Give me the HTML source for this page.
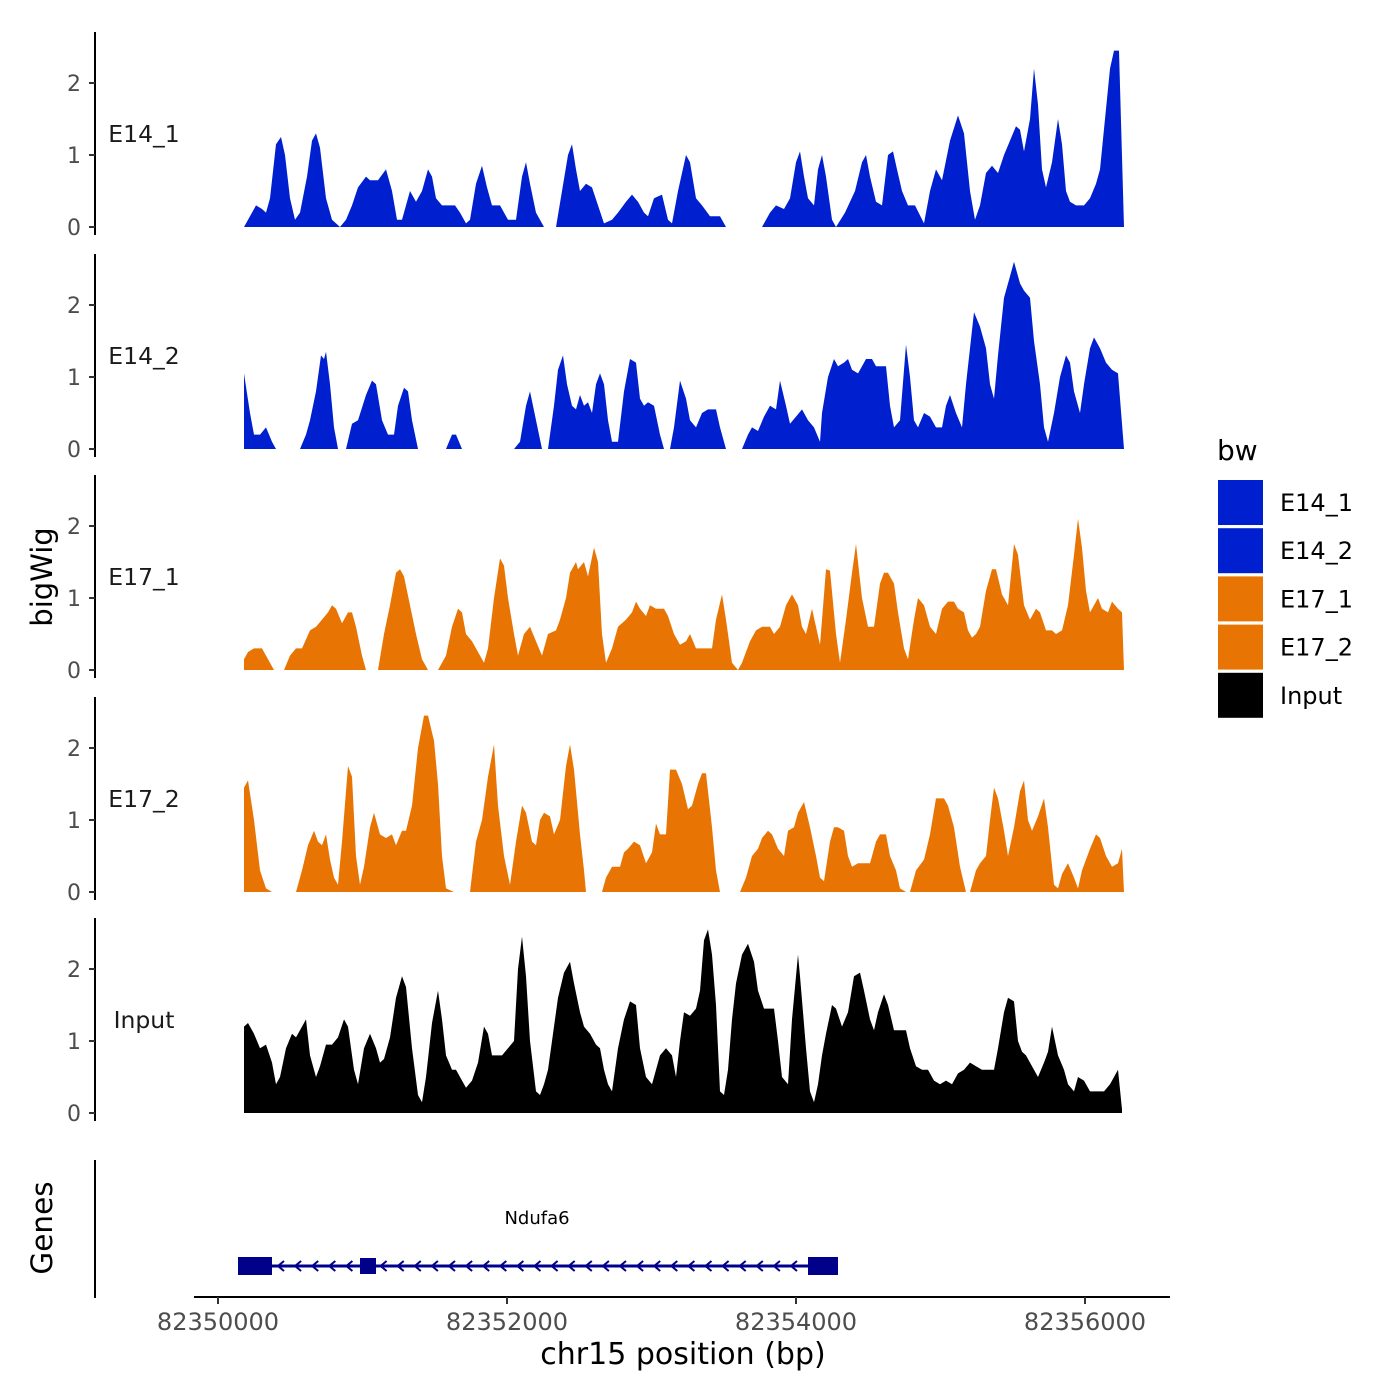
<!DOCTYPE html>
<html><head><meta charset="utf-8"><style>
body{margin:0;background:#fff}
svg text{font-family:"DejaVu Sans","Liberation Sans",sans-serif}
</style></head><body>
<svg id="s" width="1400" height="1400" xmlns="http://www.w3.org/2000/svg" style="display:block">
<rect width="1400" height="1400" fill="#fff"/>
</svg>
<script>
const NS="http://www.w3.org/2000/svg";const S=document.getElementById('s');
function el(t,a,txt){const e=document.createElementNS(NS,t);for(const k in a)e.setAttribute(k,a[k]);if(txt!==undefined)e.textContent=txt;S.appendChild(e);return e;}
const tracks=[
{name:"E14_1",z:227,c:"#0020d0",d:"244 0 256 .3 262 .25 266 .2 270 .4 276 1.15 281 1.25 285 1 290 .4 295 .1 300 .2 307 .7 312 1.2 316 1.3 320 1.1 326 .4 332 .1 340 0 346 .1 352 .3 358 .55 366 .7 370 .65 378 .65 386 .8 392 .5 397 .1 402 .1 410 .5 416 .35 422 .5 428 .8 432 .7 436 .4 442 .3 455 .3 460 .2 466 .05 470 .1 476 .6 482 .85 487 .55 492 .3 500 .3 508 .1 516 .1 522 .7 526 .9 530 .6 536 .2 544 0 | 556 0 562 .5 568 1 572 1.15 576 .8 580 .5 586 .6 592 .55 598 .3 604 .05 612 .1 618 .2 626 .35 632 .45 638 .35 644 .2 648 .15 654 .4 662 .45 668 .1 672 .05 678 .5 686 1 690 .9 696 .4 702 .3 710 .15 720 .15 726 0 | 762 0 770 .2 776 .3 784 .25 790 .4 796 .9 800 1.05 804 .7 808 .4 814 .3 818 .8 822 1 826 .7 832 .1 836 0 845 .2 855 .5 862 .9 866 1 870 .7 876 .35 882 .3 888 1 893 1.05 897 .8 902 .5 908 .3 915 .3 924 .05 930 .5 936 .8 942 .65 950 1.2 958 1.55 964 1.3 970 .5 975 .1 980 .3 986 .75 992 .85 998 .75 1004 1 1010 1.2 1016 1.4 1020 1.35 1024 1.05 1030 1.5 1034 2.2 1038 1.7 1042 .8 1046 .55 1052 .9 1058 1.5 1062 1.15 1066 .5 1070 .35 1076 .3 1084 .3 1090 .4 1096 .6 1100 .8 1105 1.5 1110 2.2 1114 2.45 1119 2.45 1124 0"},
{name:"E14_2",z:449,c:"#0020d0",d:"244 1.05 250 .5 254 .2 260 .2 266 .3 272 .1 276 0 | 300 0 306 .2 310 .4 316 .8 321 1.3 324 1.25 326 1.35 330 .9 334 .3 338 0 | 346 0 352 .35 358 .4 366 .75 372 .95 376 .9 382 .4 388 .2 394 .2 398 .6 404 .85 408 .8 412 .4 418 0 | 446 0 452 .2 456 .2 462 0 | 514 0 520 .1 526 .6 530 .8 536 .4 542 0 | 548 0 554 .6 558 1.1 563 1.3 567 .9 572 .6 576 .55 580 .75 584 .6 588 .65 592 .5 596 .9 600 1.05 604 .9 608 .4 612 .1 618 .1 624 .8 630 1.25 636 1.2 640 .7 644 .6 648 .65 654 .6 660 .2 664 0 | 670 0 674 .3 680 .95 686 .7 690 .4 696 .3 702 .5 708 .55 716 .55 720 .3 726 0 | 742 0 748 .2 752 .3 758 .25 764 .45 770 .6 776 .55 780 .95 786 .6 790 .35 796 .45 802 .55 808 .4 814 .3 820 .1 822 .5 828 1 834 1.25 838 1.15 844 1.2 848 1.25 852 1.1 858 1.05 862 1.15 866 1.25 872 1.25 876 1.15 886 1.15 890 .6 894 .3 900 .4 906 1.45 910 1 914 .4 918 .3 924 .5 930 .45 936 .3 942 .3 946 .6 950 .75 956 .5 962 .3 966 .9 974 1.9 980 1.7 986 1.4 990 .9 994 .7 998 1.3 1004 2.1 1010 2.4 1014 2.6 1020 2.3 1024 2.2 1030 2.1 1034 1.5 1040 .9 1044 .3 1048 .1 1054 .5 1060 1 1066 1.3 1070 1.2 1074 .8 1080 .5 1084 .9 1090 1.4 1094 1.55 1100 1.4 1106 1.2 1112 1.1 1118 1.05 1124 0"},
{name:"E17_1",z:670,c:"#e87503",d:"244 .15 248 .25 254 .3 262 .3 268 .15 274 0 | 284 0 290 .2 296 .3 302 .3 310 .55 316 .6 322 .7 328 .8 332 .9 336 .85 342 .65 348 .8 352 .8 356 .6 362 .2 366 0 | 378 0 384 .5 390 .9 396 1.35 400 1.4 404 1.3 410 .9 416 .5 422 .15 428 0 | 438 0 446 .2 452 .6 458 .85 462 .8 466 .5 472 .4 478 .25 484 .1 488 .3 494 1 500 1.55 504 1.45 508 1 514 .5 518 .2 524 .5 530 .6 536 .4 542 .2 548 .5 556 .55 560 .7 566 1 570 1.35 576 1.5 578 1.4 584 1.5 588 1.3 594 1.7 598 1.5 602 .5 606 .1 612 .3 618 .6 626 .7 632 .8 636 .95 640 .85 646 .75 650 .9 656 .85 664 .85 668 .75 674 .5 680 .35 686 .4 690 .5 696 .3 704 .3 712 .3 716 .7 722 1.05 726 .7 732 .1 738 0 742 .1 750 .4 756 .55 762 .6 770 .6 774 .5 780 .6 786 .9 792 1.05 798 .9 802 .6 806 .5 812 .85 816 .6 820 .35 826 1.4 830 1.38 836 .5 840 .1 846 .7 852 1.35 856 1.75 862 1 868 .6 874 .6 880 1.2 884 1.35 888 1.35 894 1.2 898 .8 904 .3 908 .15 914 .7 918 1 924 .9 930 .6 936 .5 942 .85 948 .95 954 .95 958 .85 964 .8 968 .55 972 .45 976 .5 980 .6 986 1.1 992 1.4 996 1.4 1002 1.05 1008 .9 1014 1.75 1018 1.6 1024 .9 1030 .7 1036 .85 1040 .8 1046 .55 1052 .55 1056 .5 1062 .55 1068 .9 1074 1.6 1078 2.1 1082 1.7 1086 1.1 1090 .8 1094 .9 1098 1 1102 .85 1108 .8 1112 .95 1118 .85 1122 .8 1124 0"},
{name:"E17_2",z:892,c:"#e87503",d:"244 1.45 248 1.55 254 1 260 .3 266 .05 272 0 | 296 0 302 .3 308 .65 314 .85 318 .7 322 .65 326 .8 330 .45 334 .2 338 .1 342 .7 348 1.75 352 1.6 356 .5 360 .1 364 .35 370 .9 374 1.1 380 .8 386 .75 392 .8 396 .65 402 .85 406 .85 412 1.2 418 2 424 2.45 428 2.45 434 2.1 438 1.5 442 .5 446 .05 454 0 | 470 0 476 .7 482 1 488 1.6 494 2.05 498 1.2 504 .5 510 .1 516 .7 522 1.2 526 1.1 532 .7 536 .65 540 1 544 1.1 550 1.05 554 .8 560 1 566 1.75 570 2.05 574 1.7 580 .8 584 .3 586 0 | 602 0 606 .2 612 .35 620 .35 624 .55 628 .6 634 .7 640 .65 646 .4 652 .55 656 .95 660 .8 666 .8 670 1.7 676 1.7 682 1.5 688 1.15 692 1.2 698 1.5 702 1.65 706 1.65 712 .9 716 .3 720 0 | 740 0 746 .2 752 .5 758 .6 762 .75 768 .85 772 .8 778 .6 784 .5 788 .85 794 .9 798 1.1 804 1.25 810 .9 816 .5 820 .2 824 .15 830 .7 834 .9 838 .9 844 .85 848 .5 852 .35 858 .4 864 .4 870 .4 876 .7 880 .8 886 .8 890 .5 896 .3 900 .05 906 0 | 910 0 916 .3 924 .45 930 .8 936 1.3 944 1.3 948 1.2 954 .9 960 .35 966 0 | 970 0 976 .3 980 .4 986 .5 990 1 994 1.45 998 1.3 1004 .85 1008 .5 1014 .9 1020 1.4 1024 1.55 1028 1 1032 .85 1038 1.05 1044 1.3 1048 .9 1054 .1 1058 .05 1062 .25 1068 .4 1074 .2 1078 .05 1082 .3 1090 .6 1096 .8 1100 .75 1106 .5 1112 .35 1118 .4 1122 .6 1124 0"},
{name:"Input",z:1113,c:"#000000",d:"244 1.2 248 1.25 254 1.1 260 .9 266 .95 272 .7 276 .4 280 .5 286 .9 292 1.1 296 1.05 302 1.2 306 1.3 310 .8 316 .5 320 .65 326 .95 332 .95 338 1.05 344 1.3 348 1.2 354 .6 358 .4 364 .9 370 1.1 376 .9 380 .7 384 .75 390 1.05 396 1.6 402 1.9 406 1.75 412 .9 418 .25 422 .15 426 .5 432 1.25 438 1.7 442 1.3 446 .8 452 .6 456 .6 460 .5 466 .35 472 .45 478 .7 484 1.2 488 1.1 492 .8 496 .8 502 .8 508 .9 514 1 518 2 522 2.45 526 1.9 530 1 536 .3 540 .25 544 .4 548 .6 552 1 558 1.6 564 1.95 570 2.1 574 1.8 580 1.4 584 1.2 590 1.1 596 .95 600 .9 604 .6 608 .4 612 .3 618 .9 624 1.3 630 1.55 636 1.5 640 .9 646 .5 652 .4 656 .6 660 .8 666 .9 672 .8 676 .5 680 1 684 1.4 690 1.35 696 1.45 700 1.7 704 2.4 708 2.55 712 2.2 716 1.5 720 .3 724 .25 728 .6 732 1.3 736 1.8 742 2.2 748 2.35 754 2.1 758 1.7 764 1.45 770 1.45 774 1.45 778 1 782 .5 788 .4 792 1.3 798 2.2 800 1.9 806 .9 810 .3 814 .15 818 .4 822 .8 826 1.1 832 1.5 836 1.45 842 1.2 848 1.4 854 1.9 860 1.95 864 1.7 870 1.3 874 1.15 878 1.4 884 1.65 888 1.5 894 1.15 906 1.15 910 .9 916 .65 922 .6 928 .6 934 .45 940 .4 946 .45 952 .4 958 .55 964 .6 970 .7 976 .65 982 .6 988 .6 994 .6 998 .9 1004 1.4 1008 1.6 1014 1.55 1018 1 1022 .85 1026 .8 1032 .65 1038 .5 1044 .7 1048 .85 1052 1.2 1058 .8 1064 .6 1068 .4 1074 .3 1078 .5 1084 .45 1090 .3 1096 .3 1104 .3 1110 .4 1114 .5 1118 .6 1122 .05"}];
tracks.forEach((t,i)=>{
  t.d.split('|').forEach(seg=>{
    const n=seg.trim().split(/\s+/).map(Number);
    let pts=[];for(let j=0;j<n.length;j+=2)pts.push(n[j]+','+(t.z-n[j+1]*72).toFixed(1));
    pts.push(n[n.length-2]+','+t.z);pts.unshift(n[0]+','+t.z);
    el('polygon',{points:pts.join(' '),fill:t.c});
  });
  el('line',{x1:95,x2:95,y1:t.z-195,y2:t.z+8,stroke:'#000','stroke-width':2});
  [0,1,2].forEach(v=>{const y=t.z-v*72;
    el('line',{x1:89,x2:95,y1:y,y2:y,stroke:'#333','stroke-width':2});
    el('text',{x:81,y:y+8,'text-anchor':'end','font-size':22,fill:'#4d4d4d'},v);});
  el('text',{x:144,y:t.z-85,'text-anchor':'middle','font-size':23.5,fill:'#1a1a1a'},t.name);
});
el('text',{x:0,y:0,transform:'translate(52,577) rotate(-90)','text-anchor':'middle','font-size':29,fill:'#000'},'bigWig');
el('text',{x:0,y:0,transform:'translate(52,1228) rotate(-90)','text-anchor':'middle','font-size':29.5,fill:'#000'},'Genes');
el('line',{x1:95,x2:95,y1:1160,y2:1298,stroke:'#000','stroke-width':2});
el('line',{x1:194,x2:1170,y1:1297,y2:1297,stroke:'#000','stroke-width':2});
[[218,'82350000'],[507,'82352000'],[796,'82354000'],[1085,'82356000']].forEach(a=>{
  el('line',{x1:a[0],x2:a[0],y1:1297,y2:1304,stroke:'#333','stroke-width':2});
  el('text',{x:a[0],y:1330,'text-anchor':'middle','font-size':24,fill:'#4d4d4d'},a[1]);});
el('text',{x:683,y:1364,'text-anchor':'middle','font-size':30,fill:'#000'},'chr15 position (bp)');
el('line',{x1:240,x2:836,y1:1266,y2:1266,stroke:'#00008b','stroke-width':3});
el('rect',{x:238,y:1257,width:34,height:18,fill:'#00008b'});
el('rect',{x:360,y:1258,width:16,height:16,fill:'#00008b'});
el('rect',{x:808,y:1257,width:30,height:18,fill:'#00008b'});
for(let x=278;x<806;x+=17.1){if(x>354&&x<380)continue;
  el('polyline',{points:`${x+6},${1261} ${x},${1266} ${x+6},${1271}`,fill:'none',stroke:'#00008b','stroke-width':2});}
el('text',{x:537,y:1224,'text-anchor':'middle','font-size':18,fill:'#000'},'Ndufa6');
el('text',{x:1217,y:460,'font-size':28,fill:'#000'},'bw');
[['E14_1','#0020d0'],['E14_2','#0020d0'],['E17_1','#e87503'],['E17_2','#e87503'],['Input','#000']].forEach((a,i)=>{
  const y=480+i*48.2;
  el('rect',{x:1218,y:y,width:45,height:45,fill:a[1]});
  el('text',{x:1280,y:y+31,'font-size':24,fill:'#000'},a[0]);});
</script>
</body></html>
